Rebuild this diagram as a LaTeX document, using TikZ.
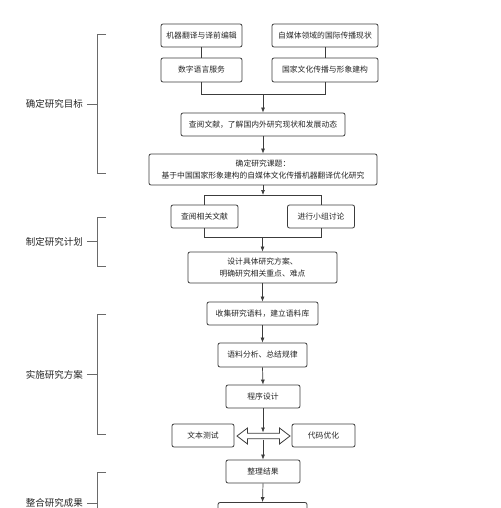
\documentclass[tikz,border=0pt]{standalone}
\usepackage{fontspec}
\newfontfamily\cjkfont{Noto Sans CJK SC}
\usetikzlibrary{arrows.meta}
\definecolor{linec}{HTML}{3C3C3C}
\definecolor{brc}{HTML}{6A6A6A}
\begin{document}
\begin{tikzpicture}[x=1pt,y=-1pt,
  box/.style={draw=linec, line width=0.8pt, rounded corners=2pt, fill=white, inner sep=0pt,
    font=\cjkfont\fontsize{7.8}{11.5}\selectfont, align=center, text=black!85},
  conn/.style={draw=linec, line width=0.7pt},
  arr/.style={conn, -{Latex[length=5pt,width=4pt]}},
  brk/.style={draw=brc, line width=0.9pt},
  lab/.style={font=\cjkfont\fontsize{9.5}{11}\selectfont, anchor=east, inner sep=0pt, text=black!85}]
\path[use as bounding box, clip] (0,0) rectangle (500,508);
\fill[white] (0,0) rectangle (500,508);

% boxes
\node[box, minimum width=81pt, minimum height=23pt] (A) at (201.5,35.5) {机器翻译与译前编辑};
\node[box, minimum width=106pt, minimum height=23pt] (B) at (325,35.5) {自媒体领域的国际传播现状};
\node[box, minimum width=81pt, minimum height=24pt] (C) at (201.5,70) {数字语言服务};
\node[box, minimum width=106pt, minimum height=24pt] (D) at (325,70) {国家文化传播与形象建构};
\node[box, minimum width=164pt, minimum height=23pt] (E) at (263,124.5) {查阅文献，了解国内外研究现状和发展动态};
\node[box, minimum width=228pt, minimum height=31pt] (F) at (263,169.5) {确定研究课题：\\基于中国国家形象建构的自媒体文化传播机器翻译优化研究};
\node[box, minimum width=67pt, minimum height=23pt] (G) at (204.5,216.5) {查阅相关文献};
\node[box, minimum width=67pt, minimum height=23pt] (H) at (321,216.5) {进行小组讨论};
\node[box, minimum width=149pt, minimum height=31pt] (I) at (262.5,267.5) {设计具体研究方案、\\明确研究相关重点、难点};
\node[box, minimum width=111pt, minimum height=23pt] (J) at (262.5,313.5) {收集研究语料，建立语料库};
\node[box, minimum width=89pt, minimum height=24pt] (K) at (262.5,355) {语料分析、总结规律};
\node[box, minimum width=74pt, minimum height=23pt] (L) at (263,396.5) {程序设计};
\node[box, minimum width=62pt, minimum height=23pt] (M) at (203,435.5) {文本测试};
\node[box, minimum width=63pt, minimum height=23pt] (N) at (323.5,435.5) {代码优化};
\node[box, minimum width=74pt, minimum height=23pt] (O) at (263,471.5) {整理结果};
\node[box, minimum width=89pt, minimum height=23pt] (P) at (262.5,514) {};

% connectors top
\coordinate (j1) at (201.5,94.5);
\coordinate (j2) at (325,94.5);
\coordinate (j3) at (263,94.5);
\draw[conn] (A) -- (C);
\draw[conn] (B) -- (D);
\draw[conn] (C.south) -- (j1) -- (j2) -- (D.south);
\draw[arr] (j3) -- (E.north);
\draw[arr] (E.south) -- (F.north);

\coordinate (k1) at (204.5,195);
\coordinate (k2) at (321,195);
\coordinate (k3) at (263,195);
\draw[arr] (F.south) -- (k3);
\draw[conn] (G.north) -- (k1) -- (k2) -- (H.north);
\coordinate (m1) at (204.5,237);
\coordinate (m2) at (321,237);
\coordinate (m3) at (262.5,237);
\draw[conn] (G.south) -- (m1) -- (m2) -- (H.south);
\draw[arr] (m3) -- (I.north);
\draw[arr] (I.south) -- (J.north);
\draw[arr] (J.south) -- (K.north);
\draw[arr] (K.south) -- (L.north);

% double arrow
\draw[draw=linec, line width=0.8pt, fill=white]
  (237,436) -- (247.5,428) -- (247.5,433.3) -- (279.5,433.3) -- (279.5,428) -- (290,436)
  -- (279.5,444) -- (279.5,438.7) -- (247.5,438.7) -- (247.5,444) -- cycle;
\coordinate (da1) at (263,432.5);
\coordinate (da2) at (263,439.5);
\draw[arr] (L.south) -- (da1);
\draw[arr] (da2) -- (O.north);
\draw[arr] (O.south) -- (P.north);

% left brackets
\node[lab] (t1) at (83,104) {确定研究目标};
\draw[brk] (106,34) -- (97,34) -- (97,173) -- (106,173);
\draw[brk] (t1.east) ++(4,0) coordinate (t1e) -- (97,104);
\node[lab] (t2) at (83,241.5) {制定研究计划};
\draw[brk] (106,217) -- (97,217) -- (97,266) -- (106,266);
\draw[brk] (t2.east) ++(4,0) -- (97,241.5);
\node[lab] (t3) at (83,374.5) {实施研究方案};
\draw[brk] (106,314) -- (97,314) -- (97,434) -- (106,434);
\draw[brk] (t3.east) ++(4,0) -- (97,374.5);
\node[lab] (t4) at (83,503) {整合研究成果};
\draw[brk] (106,472) -- (97,472) -- (97,540);
\draw[brk] (t4.east) ++(4,0) -- (97,503);
\end{tikzpicture}
\end{document}
